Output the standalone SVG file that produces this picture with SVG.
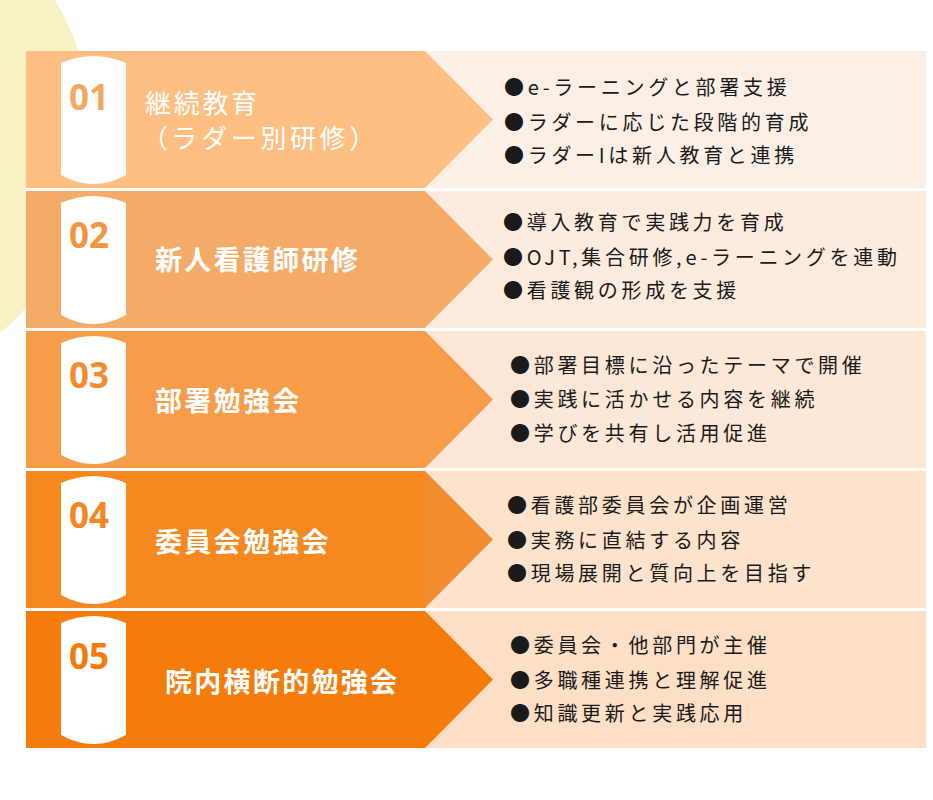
<svg xmlns="http://www.w3.org/2000/svg" width="933" height="800" viewBox="0 0 933 800">
<style>
.num{font-family:"Open Sans","Liberation Sans",sans-serif;font-weight:700;font-size:35px}
.ttl{font-family:"Noto Sans CJK JP",sans-serif;font-size:27px;font-weight:700;fill:#FFFFFF;letter-spacing:2.3px}
.ttl1{font-family:"Noto Sans CJK JP",sans-serif;font-size:26px;font-weight:400;fill:#FFFFFF;letter-spacing:2.7px}
.itm{font-family:"Noto Sans CJK JP",sans-serif;font-size:20px;fill:#1A1A1A;letter-spacing:3.7px}
.tab{fill:#FFFFFF}
</style>
<defs>
<path id="tabshape" d="M61,12 Q93.5,-2 126,12 L126,124 Q93.5,142 61,124 Z"/>
</defs>
<rect x="0" y="0" width="933" height="800" fill="#FFFFFF"/>
<circle cx="-170" cy="134" r="262" fill="#F6F2C4"/>
<rect x="26" y="51" width="900" height="697" fill="#FFFFFF"/>

<g id="row1">
<rect x="425" y="51" width="501" height="137" fill="#FCF0E6"/>
<polygon points="26,51 425,51 493,119.5 425,188 26,188" fill="#FFBE82"/>
<use href="#tabshape" y="51" class="tab"/>
<text class="num" x="69" y="110" fill="#F2A865">01</text>
<text class="ttl1" x="145" y="113">継続教育</text>
<text class="ttl1" x="142" y="148" style="letter-spacing:3.6px">（ラダー別研修）</text>
<text class="itm" x="504" y="95">●e-ラーニングと部署支援</text>
<text class="itm" x="504" y="130">●ラダーに応じた段階的育成</text>
<text class="itm" x="504" y="163">●ラダーIは新人教育と連携</text>
</g>

<g id="row2">
<rect x="425" y="191" width="501" height="137" fill="#FDECDE"/>
<polygon points="26,191 425,191 493,259.5 425,328 26,328" fill="#F4AB68"/>
<use href="#tabshape" y="191" class="tab"/>
<text class="num" x="69" y="248" fill="#F5953F">02</text>
<text class="ttl" x="155" y="270">新人看護師研修</text>
<text class="itm" x="503" y="230">●導入教育で実践力を育成</text>
<text class="itm" x="503" y="265">●OJT,集合研修,e-ラーニングを連動</text>
<text class="itm" x="503" y="298">●看護観の形成を支援</text>
</g>

<g id="row3">
<rect x="425" y="331" width="501" height="137" fill="#FDE8D7"/>
<polygon points="26,331 425,331 493,399.5 425,468 26,468" fill="#F79D4A"/>
<use href="#tabshape" y="331" class="tab"/>
<text class="num" x="69" y="388" fill="#F58B2E">03</text>
<text class="ttl" x="155" y="411">部署勉強会</text>
<text class="itm" x="510" y="373">●部署目標に沿ったテーマで開催</text>
<text class="itm" x="510" y="407">●実践に活かせる内容を継続</text>
<text class="itm" x="510" y="441">●学びを共有し活用促進</text>
</g>

<g id="row4">
<rect x="425" y="471" width="501" height="137" fill="#FDE3CC"/>
<polygon points="26,471 425,471 425,608 26,608" fill="#F5881F"/>
<polygon points="425,471 493,539.5 425,608" fill="#F38C2E"/>
<use href="#tabshape" y="471" class="tab"/>
<text class="num" x="69" y="528" fill="#F5851E">04</text>
<text class="ttl" x="155" y="552">委員会勉強会</text>
<text class="itm" x="507" y="513">●看護部委員会が企画運営</text>
<text class="itm" x="507" y="548">●実務に直結する内容</text>
<text class="itm" x="507" y="581">●現場展開と質向上を目指す</text>
</g>

<g id="row5">
<rect x="425" y="611" width="501" height="137" fill="#FCDFC5"/>
<polygon points="26,611 425,611 493,679.5 425,748 26,748" fill="#F57B0B"/>
<use href="#tabshape" y="611" class="tab"/>
<text class="num" x="69" y="669" fill="#F47A0C">05</text>
<text class="ttl" x="165" y="692">院内横断的勉強会</text>
<text class="itm" x="510" y="653">●委員会・他部門が主催</text>
<text class="itm" x="510" y="688">●多職種連携と理解促進</text>
<text class="itm" x="510" y="721">●知識更新と実践応用</text>
</g>

<g id="connectors"></g>
</svg>
